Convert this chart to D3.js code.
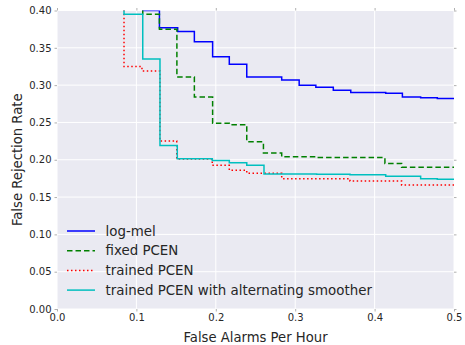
<!DOCTYPE html>
<html>
<head>
<meta charset="utf-8">
<script src="https://cdn.jsdelivr.net/npm/d3@7"></script>
<style>
  body { margin: 0; background: #fff; }
  text { font-family: 'DejaVu Sans', sans-serif; fill: #262626; }
</style>
</head>
<body>
<div id="chart"></div>
<script>
// step curves: [x, y] means y holds from x until the next x
const logMel = [[0.10, 0.45], [0.108, 0.40], [0.129, 0.377], [0.152, 0.372], [0.173, 0.358], [0.196, 0.338],
  [0.217, 0.328], [0.239, 0.311], [0.283, 0.307], [0.305, 0.300], [0.326, 0.297], [0.348, 0.293],
  [0.370, 0.290], [0.414, 0.289], [0.435, 0.284], [0.458, 0.283], [0.479, 0.282], [0.5, 0.282]]
const fixedPcen = [[0.10, 0.45], [0.108, 0.395], [0.129, 0.375], [0.151, 0.311], [0.173, 0.284], [0.196, 0.249],
  [0.217, 0.247], [0.239, 0.224], [0.260, 0.209], [0.283, 0.204], [0.326, 0.203], [0.413, 0.195],
  [0.434, 0.190], [0.5, 0.190]]
const trainedPcen = [[0.08, 0.45], [0.0844, 0.325], [0.107, 0.319], [0.1297, 0.225], [0.1508, 0.201],
  [0.1955, 0.1925], [0.217, 0.186], [0.239, 0.182], [0.283, 0.1747], [0.369, 0.1715], [0.434, 0.166], [0.5, 0.166]]
const smoother = [[0.08, 0.45], [0.0844, 0.395], [0.108, 0.335], [0.1297, 0.219], [0.1515, 0.2015],
  [0.1956, 0.199], [0.217, 0.196], [0.239, 0.1925], [0.2607, 0.181], [0.327, 0.1805], [0.369, 0.180],
  [0.414, 0.178], [0.458, 0.1747], [0.479, 0.1738], [0.5, 0.1738]]

const seriesNames = ['log-mel', 'fixed PCEN', 'trained PCEN', 'trained PCEN with alternating smoother']
const xTicks = [0, 0.1, 0.2, 0.3, 0.4, 0.5]
const yTicks = [0, 0.05, 0.1, 0.15, 0.2, 0.25, 0.3, 0.35, 0.4]

const dimensions = {
  width: 465,
  height: 345,
  margins: { top: 10.5, right: 11, bottom: 36, left: 57 },
}
const ctrW = dimensions.width - dimensions.margins.left - dimensions.margins.right
const ctrH = dimensions.height - dimensions.margins.top - dimensions.margins.bottom

const styles = [
  { color: '#0000ff', dash: null },
  { color: '#008000', dash: '5.5,3' },
  { color: '#ff0000', dash: '1.5,2.5' },
  { color: '#00bfbf', dash: null },
]
const dataset = [logMel, fixedPcen, trainedPcen, smoother]

const xScale = d3.scaleLinear().domain([0, 0.5]).range([0, ctrW])
const yScale = d3.scaleLinear().domain([0, 0.4]).range([ctrH, 0])

const svg = d3.select('#chart').append('svg')
  .attr('width', dimensions.width)
  .attr('height', dimensions.height)

const ctr = svg.append('g')
  .attr('transform', `translate(${dimensions.margins.left}, ${dimensions.margins.top})`)

ctr.append('rect').attr('width', ctrW).attr('height', ctrH).attr('fill', '#eaeaf2')

// grid
ctr.append('g').selectAll('line').data(xTicks).join('line')
  .attr('x1', (d) => xScale(d)).attr('x2', (d) => xScale(d))
  .attr('y1', 0).attr('y2', ctrH)
  .attr('stroke', '#fff').attr('stroke-width', 1)
ctr.append('g').selectAll('line').data(yTicks).join('line')
  .attr('y1', (d) => yScale(d)).attr('y2', (d) => yScale(d))
  .attr('x1', 0).attr('x2', ctrW)
  .attr('stroke', '#fff').attr('stroke-width', 1)

// axes
const fmt = (d) => d3.format('.1f')(d)
const xAxis = d3.axisBottom(xScale).tickValues(xTicks).tickFormat(fmt).tickSizeInner(2.5).tickSizeOuter(0).tickPadding(2)
const yAxis = d3.axisLeft(yScale).tickValues(yTicks).tickFormat(d3.format('.2f')).tickSizeInner(2.5).tickSizeOuter(0).tickPadding(3)
const xTop = d3.axisTop(xScale).tickValues(xTicks).tickFormat('').tickSizeInner(2.5).tickSizeOuter(0)
const yRight = d3.axisRight(yScale).tickValues(yTicks).tickFormat('').tickSizeInner(2.5).tickSizeOuter(0)

const axisStyle = (g) => {
  g.select('.domain').remove()
  g.selectAll('line').attr('stroke', '#b0b0b0')
  g.selectAll('text').style('font-size', '10px').attr('fill', '#262626')
}
ctr.append('g').attr('transform', `translate(0, ${ctrH})`).call(xAxis).call(axisStyle)
ctr.append('g').call(yAxis).call(axisStyle)
ctr.append('g').call(xTop).call(axisStyle)
ctr.append('g').attr('transform', `translate(${ctrW}, 0)`).call(yRight).call(axisStyle)

// lines
ctr.append('clipPath').attr('id', 'clip').append('rect').attr('width', ctrW).attr('height', ctrH)
const line = d3.line()
  .x((d) => xScale(d[0]))
  .y((d) => yScale(d[1]))
  .curve(d3.curveStepAfter)

ctr.append('g').attr('clip-path', 'url(#clip)')
  .selectAll('path').data(dataset).join('path')
  .attr('d', line)
  .attr('fill', 'none')
  .attr('stroke', (d, i) => styles[i].color)
  .attr('stroke-width', 1.5)
  .attr('stroke-dasharray', (d, i) => styles[i].dash)

// axis labels
svg.append('text')
  .attr('x', dimensions.margins.left + ctrW / 2)
  .attr('y', 341.5)
  .attr('text-anchor', 'middle')
  .style('font-size', '13.2px')
  .text('False Alarms Per Hour')
svg.append('text')
  .attr('transform', `translate(22, ${dimensions.margins.top + ctrH / 2}) rotate(-90)`)
  .attr('text-anchor', 'middle')
  .style('font-size', '13.2px')
  .text('False Rejection Rate')

// legend
const legend = svg.append('g').attr('transform', 'translate(67, 231)')
const rows = legend.selectAll('g').data(seriesNames).join('g')
  .attr('transform', (d, i) => `translate(0, ${i * 19.7})`)
rows.append('line')
  .attr('x1', 0).attr('x2', 28)
  .attr('stroke', (d, i) => styles[i].color)
  .attr('stroke-width', 1.5)
  .attr('stroke-dasharray', (d, i) => styles[i].dash)
rows.append('text')
  .attr('x', 38.5)
  .attr('dy', '0.35em')
  .style('font-size', '13.4px')
  .text((d) => d)
</script>
</body>
</html>
